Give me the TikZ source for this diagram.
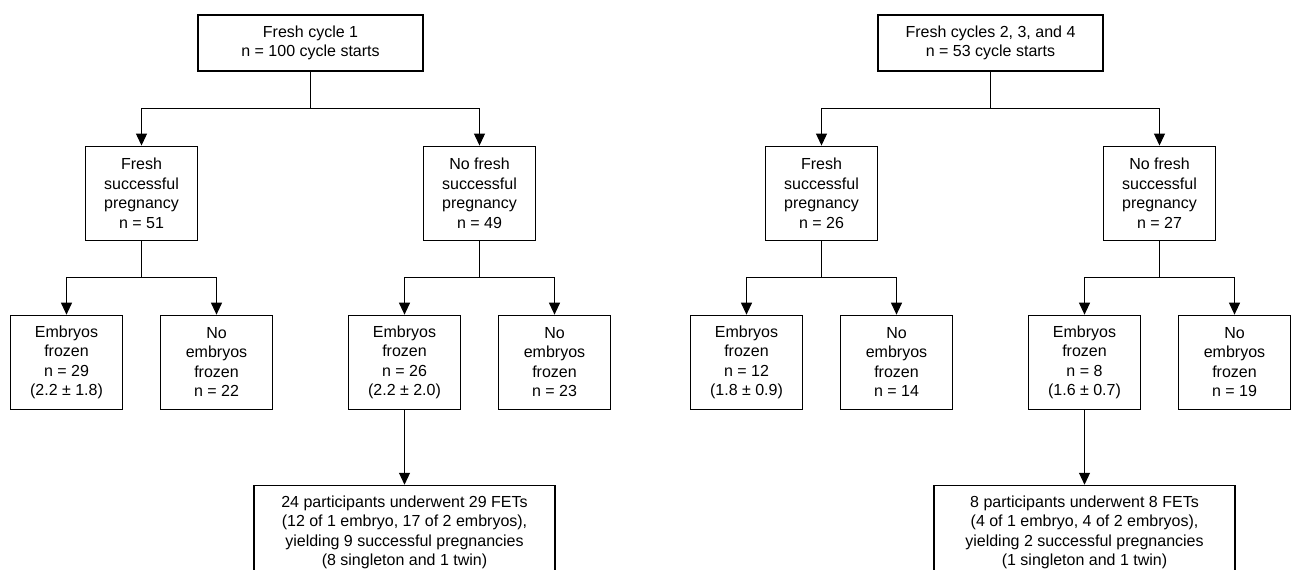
\documentclass[tikz,border=0pt]{standalone}
\usepackage{fontspec}
\setmainfont{Liberation Sans}
\usetikzlibrary{arrows.meta,positioning}

\begin{document}
\begin{tikzpicture}[
    x=1pt, y=1pt,
    font=\fontsize{16}{19.5}\selectfont,
    node distance=74pt and 0pt,
    box/.style={draw, line width=1.1pt, align=center,
                minimum width=112pt, minimum height=94pt, inner sep=2pt},
    topbox/.style={box, minimum width=225pt, minimum height=56pt},
    fetbox/.style={box, minimum width=301pt, minimum height=94pt},
    flow/.style={-{Triangle[length=12pt,width=11pt]}, line width=1.1pt}
]
\useasboundingbox (0,0) rectangle (1291,-570);

% left tree: fresh cycle 1
\node[topbox] (fc1) at (310.5,-43) {Fresh cycle 1\\n = 100 cycle starts};
\node[box, below=of fc1, xshift=-169pt] (fsp1) {Fresh\\successful\\pregnancy\\n = 51};
\node[box, below=of fc1, xshift=169pt] (nfsp1) {No fresh\\successful\\pregnancy\\n = 49};

\node[box, below=of fsp1, xshift=-75pt] (ef29) {Embryos\\frozen\\n = 29\\(2.2 ± 1.8)};
\node[box, below=of fsp1, xshift=75pt] (nef22) {No\\embryos\\frozen\\n = 22};
\node[box, below=of nfsp1, xshift=-75pt] (ef26) {Embryos\\frozen\\n = 26\\(2.2 ± 2.0)};
\node[box, below=of nfsp1, xshift=75pt] (nef23) {No\\embryos\\frozen\\n = 23};

\node[fetbox, below=75pt of ef26] (fet1) {24 participants underwent 29 FETs\\(12 of 1 embryo, 17 of 2 embryos),\\yielding 9 successful pregnancies\\(8 singleton and 1 twin)};

% right tree: fresh cycles 2-4
\node[topbox] (fc234) at (990.5,-43) {Fresh cycles 2, 3, and 4\\n = 53 cycle starts};
\node[box, below=of fc234, xshift=-169pt] (fsp2) {Fresh\\successful\\pregnancy\\n = 26};
\node[box, below=of fc234, xshift=169pt] (nfsp2) {No fresh\\successful\\pregnancy\\n = 27};

\node[box, below=of fsp2, xshift=-75pt] (ef12) {Embryos\\frozen\\n = 12\\(1.8 ± 0.9)};
\node[box, below=of fsp2, xshift=75pt] (nef14) {No\\embryos\\frozen\\n = 14};
\node[box, below=of nfsp2, xshift=-75pt] (ef8) {Embryos\\frozen\\n = 8\\(1.6 ± 0.7)};
\node[box, below=of nfsp2, xshift=75pt] (nef19) {No\\embryos\\frozen\\n = 19};

\node[fetbox, below=75pt of ef8] (fet2) {8 participants underwent 8 FETs\\(4 of 1 embryo, 4 of 2 embryos),\\yielding 2 successful pregnancies\\(1 singleton and 1 twin)};

% connectors
\draw[flow] (fc1.south) -- ++(0,-37) -| (fsp1.north);
\draw[flow] (fc1.south) -- ++(0,-37) -| (nfsp1.north);
\draw[flow] (fsp1.south) -- ++(0,-37) -| (ef29.north);
\draw[flow] (fsp1.south) -- ++(0,-37) -| (nef22.north);
\draw[flow] (nfsp1.south) -- ++(0,-37) -| (ef26.north);
\draw[flow] (nfsp1.south) -- ++(0,-37) -| (nef23.north);
\draw[flow] (ef26.south) -- (fet1.north);

\draw[flow] (fc234.south) -- ++(0,-37) -| (fsp2.north);
\draw[flow] (fc234.south) -- ++(0,-37) -| (nfsp2.north);
\draw[flow] (fsp2.south) -- ++(0,-37) -| (ef12.north);
\draw[flow] (fsp2.south) -- ++(0,-37) -| (nef14.north);
\draw[flow] (nfsp2.south) -- ++(0,-37) -| (ef8.north);
\draw[flow] (nfsp2.south) -- ++(0,-37) -| (nef19.north);
\draw[flow] (ef8.south) -- (fet2.north);
\end{tikzpicture}
\end{document}
